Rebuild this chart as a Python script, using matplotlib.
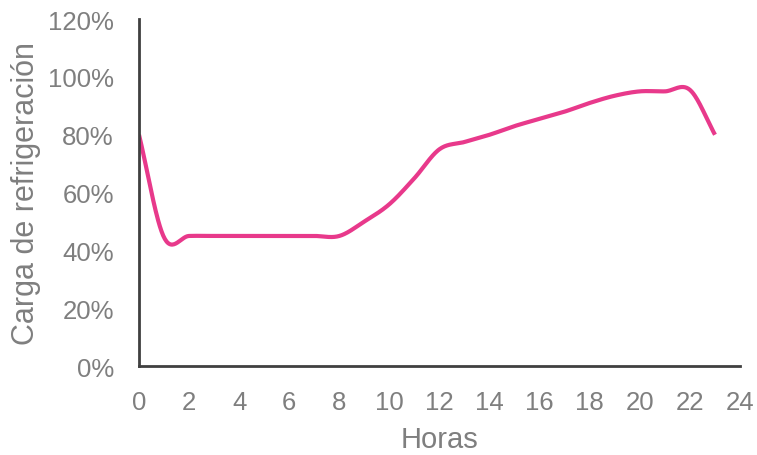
import numpy as np
import matplotlib
matplotlib.use("Agg")
import matplotlib.pyplot as plt
from matplotlib.ticker import PercentFormatter

hours = list(range(24))
load = [80, 44.5, 45, 45, 45, 45, 45, 45, 45, 50, 56, 65, 75, 77.5, 80, 83, 85.5, 88, 91, 93.5, 95, 95, 95.5, 80]
x_ticks = list(range(0, 25, 2))
y_ticks = [0, 20, 40, 60, 80, 100, 120]


def catmull_rom(xs, ys, n=30):
    p = np.column_stack([xs, ys]).astype(float)
    p = np.vstack([2 * p[0] - p[1], p, 2 * p[-1] - p[-2]])
    out = []
    t = np.linspace(0, 1, n, endpoint=False)[:, None]
    for i in range(1, len(p) - 2):
        p0, p1, p2, p3 = p[i - 1], p[i], p[i + 1], p[i + 2]
        seg = 0.5 * ((2 * p1) + (-p0 + p2) * t + (2 * p0 - 5 * p1 + 4 * p2 - p3) * t ** 2
                     + (-p0 + 3 * p1 - 3 * p2 + p3) * t ** 3)
        out.append(seg)
    out.append(p[-2][None, :])
    out = np.vstack(out)
    return out[:, 0], out[:, 1]


plt.rcParams['font.family'] = ['Liberation Sans', 'DejaVu Sans']
grey = '#7f7f7f'

fig = plt.figure(figsize=(7.57, 4.56), dpi=100)
ax = fig.add_axes([0.1836, 0.195, 0.794, 0.761])

sx, sy = catmull_rom(hours, load)
ax.plot(sx, sy, color='#E8398B', lw=3, solid_capstyle='butt')

ax.set_xlim(0, 24)
ax.set_ylim(0, 120)
ax.set_xticks(x_ticks)
ax.set_yticks(y_ticks)
ax.yaxis.set_major_formatter(PercentFormatter(decimals=0))

for s in ['top', 'right']:
    ax.spines[s].set_visible(False)
for s in ['left', 'bottom']:
    ax.spines[s].set_color('#404040')
    ax.spines[s].set_linewidth(2)

ax.tick_params(axis='both', length=0, labelsize=18.5, labelcolor=grey)
ax.tick_params(axis='y', pad=18)
ax.tick_params(axis='x', pad=17)

ax.set_xlabel('Horas', fontsize=21, color=grey, labelpad=8)
ax.set_ylabel('Carga de refrigeración', fontsize=22, color=grey, labelpad=5)

fig.savefig('out.png', dpi=100)
